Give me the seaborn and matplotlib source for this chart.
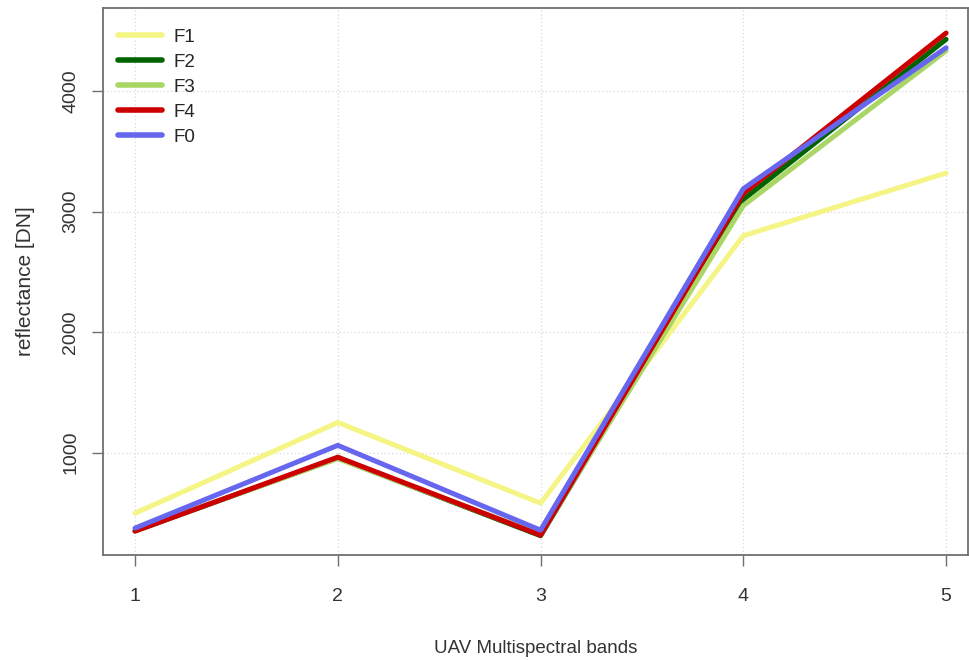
import numpy as np
import pandas as pd
import matplotlib
matplotlib.use("Agg")
import matplotlib.pyplot as plt
import seaborn as sns

bands = [1, 2, 3, 4, 5]
series_names = ["F1", "F2", "F3", "F4", "F0"]
f1 = [497, 1250, 580, 2800, 3320]
f2 = [350, 955, 310, 3100, 4430]
f3 = [356, 950, 322, 3050, 4335]
f4 = [348, 962, 315, 3150, 4482]
f0 = [373, 1060, 356, 3190, 4360]
colors = ["#f5f585", "#006400", "#aad666", "#cc0000", "#6666ee"]

df = pd.DataFrame({
    "band": bands * 5,
    "value": f1 + f2 + f3 + f4 + f0,
    "series": sum([[n] * 5 for n in series_names], []),
})

sns.set_style("white")
plt.rcParams["font.family"] = ["Liberation Sans", "DejaVu Sans"]

fig = plt.figure(figsize=(9.7, 6.6), dpi=100)
# axes box from x=103..968 px, y=8..555 px
ax = fig.add_axes([103 / 970, 105 / 660, 865 / 970, 547 / 660])

sns.lineplot(data=df, x="band", y="value", hue="series", hue_order=series_names,
             palette=colors, linewidth=3.6, ax=ax, legend=True)

ax.set_xlim(0.842, 5.108)
ax.set_ylim(150, 4690)
ax.set_xticks(bands)
ax.set_yticks([1000, 2000, 3000, 4000])
ax.set_yticklabels(["1000", "2000", "3000", "4000"], rotation=90, va="center")
ax.grid(True, color="#d8d8d8", linestyle=(0, (1, 2)), linewidth=0.9)
ax.set_axisbelow(True)
for s in ax.spines.values():
    s.set_color("#707070")
    s.set_linewidth(1.3)
ax.tick_params(axis="both", direction="out", length=8, width=1, color="#707070",
               labelsize=14, labelcolor="#333333", left=True, bottom=True)
ax.tick_params(axis="x", pad=16)
ax.tick_params(axis="y", pad=9)
ax.set_xlabel("UAV Multispectral bands", fontsize=13.5, color="#333333", labelpad=25)
ax.set_ylabel("reflectance [DN]", fontsize=15, color="#333333", labelpad=20)

leg = ax.legend(loc="upper left", frameon=False, fontsize=13.5, handlelength=2.3,
                labelspacing=0.42, borderaxespad=0, handletextpad=0.64,
                bbox_to_anchor=(111 / 970, 1 - 21 / 660),
                bbox_transform=fig.transFigure)
for h in leg.get_lines():
    h.set_linewidth(4)

fig.savefig("out.png", dpi=100)
